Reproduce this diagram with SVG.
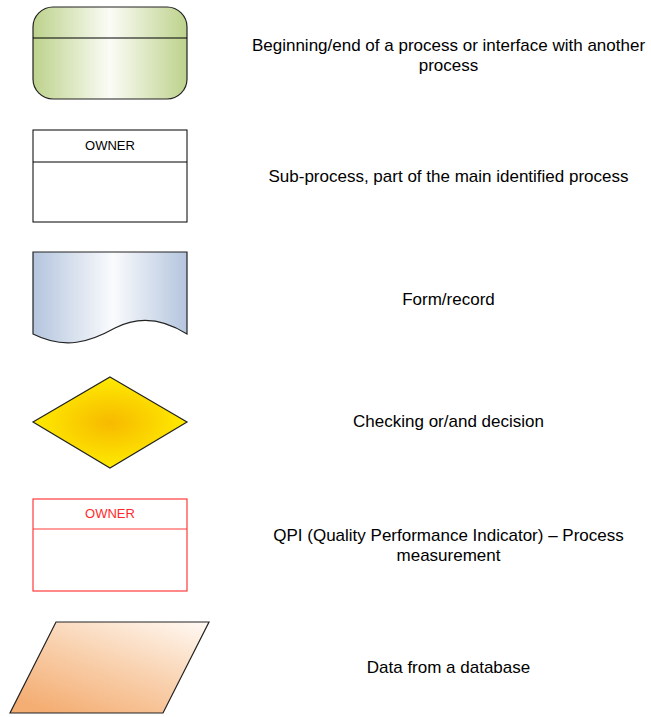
<svg xmlns="http://www.w3.org/2000/svg" width="651" height="717" viewBox="0 0 651 717">
<defs>
<style>
.lbl{font-family:"Liberation Sans",Arial,sans-serif;font-size:17px;fill:#000;text-anchor:middle}
.own{font-family:"Liberation Sans",Arial,sans-serif;font-size:13px;text-anchor:middle}
.shp{stroke:#222;stroke-width:1.2}
</style>
<linearGradient id="gGreen" x1="0" y1="0" x2="1" y2="0">
<stop offset="0" stop-color="#bdd28c"/>
<stop offset="0.5" stop-color="#fbfcf6"/>
<stop offset="1" stop-color="#bdd28c"/>
</linearGradient>
<linearGradient id="gBlue" x1="0" y1="0" x2="1" y2="0">
<stop offset="0" stop-color="#b4c5de"/>
<stop offset="0.52" stop-color="#fafbfd"/>
<stop offset="1" stop-color="#b4c5de"/>
</linearGradient>
<radialGradient id="gYellow" cx="0.5" cy="0.5" r="0.55">
<stop offset="0" stop-color="#f7b900"/>
<stop offset="1" stop-color="#fff000"/>
</radialGradient>
<linearGradient id="gOrange" x1="0.2" y1="1" x2="1" y2="0">
<stop offset="0" stop-color="#f4ad72"/>
<stop offset="0.5" stop-color="#f9d2b0"/>
<stop offset="1" stop-color="#fffaf5"/>
</linearGradient>
</defs>
<rect width="651" height="717" fill="#fff"/>

<g id="terminator">
<rect class="shp" x="33" y="7" width="154" height="92" rx="20" ry="20" fill="url(#gGreen)"/>
<line x1="33" y1="38" x2="187" y2="38" stroke="#000" stroke-width="1.2"/>
</g>
<g id="terminator-label">
<text class="lbl" x="448.5" y="51">Beginning/end of a process or interface with another</text>
<text class="lbl" x="448.5" y="71">process</text>
</g>

<g id="subprocess">
<rect x="33" y="130" width="154" height="92" fill="#fff" stroke="#000" stroke-width="1"/>
<line x1="33" y1="162" x2="187" y2="162" stroke="#000" stroke-width="1"/>
<text class="own" x="110" y="150" fill="#000">OWNER</text>
</g>
<g id="subprocess-label">
<text class="lbl" x="448.5" y="182">Sub-process, part of the main identified process</text>
</g>

<g id="document">
<path class="shp" d="M33,252 H187 V334 C165,320 140,315 115,328 C90,342 65,350 33,334 Z" fill="url(#gBlue)"/>
</g>
<g id="document-label">
<text class="lbl" x="448.5" y="305">Form/record</text>
</g>

<g id="decision">
<polygon class="shp" points="110,377 187,422 110,468 33,422" fill="url(#gYellow)"/>
</g>
<g id="decision-label">
<text class="lbl" x="448.5" y="427">Checking or/and decision</text>
</g>

<g id="qpi">
<rect x="33" y="499" width="154" height="92" fill="#fff" stroke="#ff3b3b" stroke-width="1.2"/>
<line x1="33" y1="529" x2="187" y2="529" stroke="#ff3b3b" stroke-width="1.2"/>
<text class="own" x="110" y="518" fill="#ff2a2a">OWNER</text>
</g>
<g id="qpi-label">
<text class="lbl" x="448.5" y="541">QPI (Quality Performance Indicator) – Process</text>
<text class="lbl" x="448.5" y="561">measurement</text>
</g>

<g id="data">
<polygon class="shp" points="56,622 209,622 163,713 10,713" fill="url(#gOrange)"/>
</g>
<g id="data-label">
<text class="lbl" x="448.5" y="673">Data from a database</text>
</g>

<g id="connectors"></g>
</svg>
